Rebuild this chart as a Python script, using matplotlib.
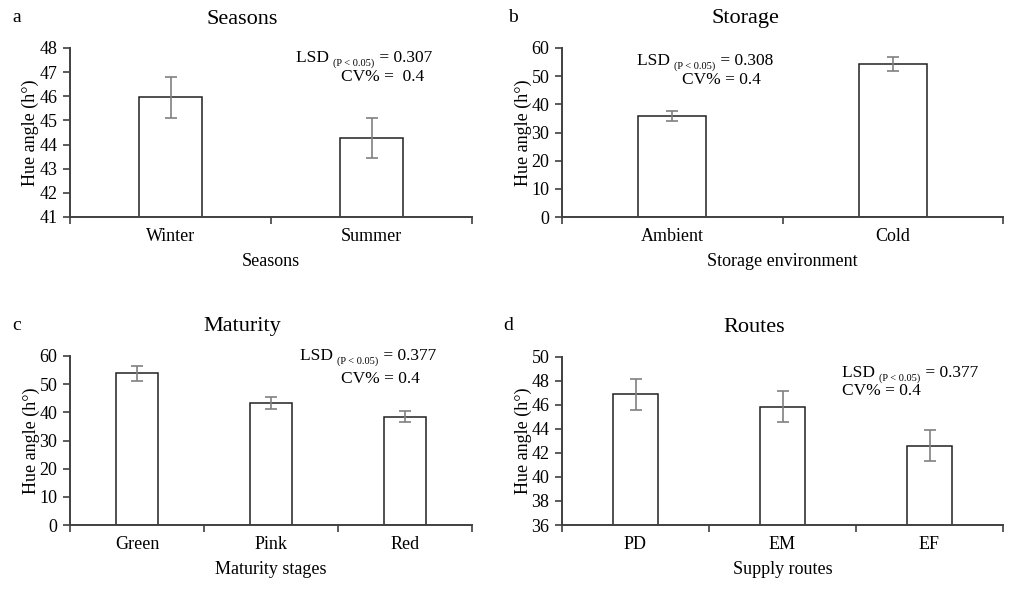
import numpy as np
import matplotlib
matplotlib.use("Agg")
import matplotlib.pyplot as plt

plt.rcParams['font.family'] = ['Liberation Serif', 'DejaVu Serif']

# data
seasons = ['Winter', 'Summer']
seasons_hue = [45.95, 44.28]
seasons_err = [0.83, 0.83]

storage = ['Ambient', 'Cold']
storage_hue = [36.0, 54.2]
storage_err = [1.8, 2.5]

maturity = ['Green', 'Pink', 'Red']
maturity_hue = [53.8, 43.2, 38.5]
maturity_err = [2.6, 2.1, 2.0]

routes = ['PD', 'EM', 'EF']
routes_hue = [46.9, 45.85, 42.6]
routes_err = [1.3, 1.3, 1.3]

axis_col = '#404040'
err_col = '#808080'

fig = plt.figure(figsize=(10.31, 5.92), dpi=100)
renderer = fig.canvas.get_renderer()

def panel(rect, cats, vals, errs, ylim, yticks, xlabel):
    ax = fig.add_axes(rect)
    x = np.arange(len(cats))
    ax.bar(x, vals, width=0.31, color='white', edgecolor='#202020', linewidth=1.1)
    ax.errorbar(x, vals, yerr=errs, fmt='none', ecolor=err_col, elinewidth=1.2,
                capsize=4, capthick=1.2)
    ax.set_xlim(-0.5, len(cats) - 0.5)
    ax.set_ylim(*ylim)
    ax.set_yticks(yticks)
    ax.set_xticks(x)
    ax.set_xticklabels(cats, fontsize=13)
    ax.set_xticks(np.arange(len(cats) + 1) - 0.5, minor=True)
    ax.tick_params(axis='x', which='major', length=0, pad=8)
    ax.tick_params(axis='x', which='minor', length=5, width=1.2, color=axis_col, direction='out')
    ax.tick_params(axis='y', length=5, width=1.2, color=axis_col, labelsize=13, pad=4)
    for s in ['top', 'right']:
        ax.spines[s].set_visible(False)
    for s in ['left', 'bottom']:
        ax.spines[s].set_color(axis_col)
        ax.spines[s].set_linewidth(1.4)
    ax.set_ylabel('Hue angle (h°)', fontsize=13, labelpad=0)
    ax.set_xlabel(xlabel, fontsize=13, labelpad=6)
    return ax

W, H = 1031, 592
def rect(x0, x1, ytop, ybot):
    return [x0 / W, 1 - ybot / H, (x1 - x0) / W, (ybot - ytop) / H]

panel(rect(70, 472, 48, 217), seasons, seasons_hue, seasons_err, (41, 48), range(41, 49), 'Seasons')
panel(rect(562, 1003, 48, 217), storage, storage_hue, storage_err, (0, 60), range(0, 61, 10), 'Storage environment')
panel(rect(70, 472, 356, 525), maturity, maturity_hue, maturity_err, (0, 60), range(0, 61, 10), 'Maturity stages')
panel(rect(562, 1003, 357, 525), routes, routes_hue, routes_err, (36, 50), range(36, 51, 2), 'Supply routes')

def ftext(px, py, s, **kw):
    return fig.text(px / W, 1 - py / H, s, **kw)

# panel letters and titles
for (px, py, s) in [(12, 17, 'a'), (508, 17, 'b'), (12, 326, 'c'), (503, 326, 'd')]:
    ftext(px, py, s, fontsize=14, va='center')
for (px, py, s) in [(242, 19, 'Seasons'), (745, 19, 'Storage'), (242, 327, 'Maturity'), (754, 327, 'Routes')]:
    ftext(px, py, s, fontsize=16, ha='center', va='center')

def lsd(px, base, value):
    # "LSD (P < 0.05) = value" with a small lowered subscript
    t = ftext(px, base, 'LSD ', fontsize=12.5, va='baseline')
    x1 = t.get_window_extent(renderer).x1
    t = ftext(x1, base + 4, '(P < 0.05)', fontsize=7.5, va='baseline')
    x1 = t.get_window_extent(renderer).x1
    ftext(x1, base, ' = ' + value, fontsize=12.5, va='baseline')

lsd(296, 62, '0.307')
ftext(341, 81, 'CV% =  0.4', fontsize=12.5, va='baseline')
lsd(637, 65, '0.308')
ftext(682, 84, 'CV% = 0.4', fontsize=12.5, va='baseline')
lsd(300, 360, '0.377')
ftext(341, 383, 'CV% = 0.4', fontsize=12.5, va='baseline')
lsd(842, 377, '0.377')
ftext(842, 395, 'CV% = 0.4', fontsize=12.5, va='baseline')

fig.savefig('out.png', dpi=100)
